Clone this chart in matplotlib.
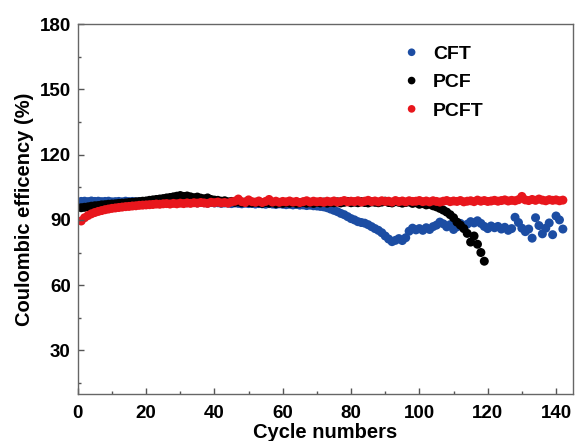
import numpy as np
import matplotlib
matplotlib.use('Agg')
import matplotlib.pyplot as plt

plt.rcParams['font.family'] = ['Liberation Sans', 'DejaVu Sans']
plt.rcParams['font.weight'] = 'bold'

# coulombic efficiency (%) per cycle
cft = [98.5, 98.6, 98.4, 98.7, 98.5, 98.6, 98.4, 98.5, 98.6, 98.3,
       98.4, 98.5, 98.3, 98.6, 98.4, 98.5, 98.3, 98.4, 98.2, 98.5,
       98.3, 98.1, 98.4, 98.2, 98.3, 98.0, 98.2, 98.1, 98.3, 98.0,
       98.1, 97.9, 98.2, 98.0, 97.8, 98.1, 97.9, 97.7, 98.0, 97.8,
       97.9, 97.6, 97.8, 97.7, 97.5, 97.8, 97.6, 97.4, 97.7, 97.5,
       97.6, 97.3, 97.5, 97.4, 97.2, 97.5, 97.3, 97.1, 97.4, 97.2,
       97.0, 97.2, 96.9, 97.1, 96.8, 96.9, 96.6, 96.8, 96.5, 96.4,
       96.2, 96.0, 95.6, 95.0, 94.4, 93.8, 93.0, 92.4, 91.5, 90.6,
       90.0, 89.2, 88.8, 88.5, 87.8, 86.9, 86.0, 85.2, 84.1, 82.6,
       81.2, 80.0, 80.6, 81.4, 80.5, 81.8, 84.8, 86.2, 85.4, 86.0,
       85.2, 86.4, 85.6, 86.9, 87.6, 89.0, 88.2, 86.8, 87.8, 85.6,
       86.8, 88.4, 87.2, 88.0, 89.2, 88.6, 89.6, 88.4, 87.0, 86.0,
       87.2, 86.4, 87.0, 85.8, 86.6, 85.2, 86.0, 91.2, 88.8, 86.2,
       84.6, 85.8, 81.6, 91.0, 87.4, 83.6, 86.2, 88.6, 83.2, 91.8,
       90.0, 85.8]

pcf = [95.6, 95.8, 96.0, 96.3, 96.5, 96.6, 96.9, 97.0, 97.2, 97.3,
       97.4, 97.6, 97.7, 97.8, 98.0, 98.1, 98.3, 98.4, 98.6, 98.7,
       99.0, 99.2, 99.4, 99.6, 99.8, 100.1, 100.3, 100.6, 100.9, 101.2,
       100.8, 101.0, 100.6, 100.2, 100.5, 100.0, 99.7, 100.1, 99.4, 99.1,
       99.0, 98.6, 98.8, 98.3, 98.5, 98.1, 98.3, 97.9, 98.2, 98.0,
       97.8, 98.1, 97.9, 97.6, 98.0, 97.7, 97.9, 97.5, 97.8, 97.6,
       97.9, 97.7, 98.0, 97.6, 97.8, 98.1, 97.7, 97.9, 97.6, 98.0,
       97.8, 98.2, 97.7, 98.0, 97.9, 98.3, 97.8, 98.1, 98.5, 97.9,
       98.2, 97.9, 98.4, 98.0, 97.8, 98.3, 98.1, 97.9, 98.2, 98.6,
       98.0, 97.8, 98.4, 98.1, 97.7, 98.0, 98.3, 97.6, 97.9, 97.2,
       97.5, 96.9, 97.2, 96.5, 96.0, 95.3, 94.5, 93.6, 92.4, 91.0,
       89.0, 87.6, 86.0, 83.8, 79.8, 82.6, 78.8, 75.0, 71.0]

pcft = [89.5, 91.0, 92.0, 92.8, 93.4, 93.9, 94.3, 94.7, 95.0, 95.3,
        95.5, 95.7, 95.9, 96.1, 96.2, 96.4, 96.5, 96.7, 96.8, 96.9,
        97.0, 97.1, 97.3, 97.2, 97.4, 97.5, 97.3, 97.6, 97.4, 97.7,
        97.5, 97.8, 97.6, 97.9, 97.7, 98.0, 97.8, 97.6, 98.1, 97.9,
        98.2, 97.8, 98.0, 97.7, 98.3, 98.6, 99.6, 98.4, 98.0, 99.2,
        98.4, 98.1, 98.7, 98.0, 98.5, 99.4, 98.2, 98.6, 98.1, 98.5,
        98.3, 98.7, 98.2, 98.5, 98.0, 98.4, 98.8, 98.2, 98.6, 98.3,
        98.5, 98.1, 98.6, 98.3, 98.7, 98.2, 98.5, 98.9, 98.3, 98.6,
        98.4, 98.8, 98.2, 98.6, 99.0, 98.4, 98.7, 98.3, 98.8, 98.5,
        98.6, 98.2, 98.9, 98.4, 98.7, 98.3, 98.8, 98.5, 98.6, 98.9,
        98.4, 98.7, 98.3, 98.8, 98.5, 98.2, 98.6, 98.9, 98.4, 98.7,
        98.5, 98.9, 98.3, 98.6, 98.8, 98.4, 99.1, 98.6, 98.9, 98.5,
        98.7, 99.0, 98.6, 98.9, 99.2, 98.7, 99.0, 98.8, 99.3, 100.8,
        99.2, 98.9, 99.4, 99.0, 99.6, 99.1, 98.8, 99.3, 99.0, 99.2,
        98.8, 99.1]

cyc_cft = np.arange(1, len(cft) + 1)
cyc_pcf = np.arange(1, len(pcf) + 1)
cyc_pcft = np.arange(1, len(pcft) + 1)

fig = plt.figure(figsize=(5.76, 4.41), dpi=100)
ax = fig.add_axes([0.135, 0.107, 0.86, 0.838])

ax.scatter(cyc_cft, cft, s=42, color='#1c4da3', edgecolors='none', label='CFT')
ax.scatter(cyc_pcf, pcf, s=42, color='black', edgecolors='none', label='PCF')
ax.scatter(cyc_pcft, pcft, s=42, color='#e8161c', edgecolors='none', label='PCFT')

ax.set_xlim(0, 145)
ax.set_ylim(10, 180)
ax.set_xticks(np.arange(0, 141, 20))
ax.set_xticks(np.arange(10, 145, 20), minor=True)
ax.set_yticks(np.arange(30, 181, 30))
ax.set_yticks(np.arange(15, 180, 30), minor=True)
ax.tick_params(which='both', direction='in', labelsize=13.5, color='#555555')
ax.tick_params(which='major', length=4, width=1)
ax.tick_params(which='minor', length=2.5, width=1)
ax.tick_params(axis='x', which='major', pad=8)
ax.tick_params(axis='y', which='major', pad=5)
for lab in ax.get_xticklabels() + ax.get_yticklabels():
    lab.set_fontweight('bold')
for sp in ax.spines.values():
    sp.set_color('#666666')
    sp.set_linewidth(1.0)

ax.set_xlabel('Cycle numbers', fontsize=14.5, fontweight='bold', labelpad=1)
ax.set_ylabel('Coulombic efficency (%)', fontsize=14.5, fontweight='bold', labelpad=4)

leg = ax.legend(loc='upper left', bbox_to_anchor=(0.619, 0.99), frameon=False,
                fontsize=14, markerscale=0.85, handlelength=1.0, handletextpad=0.6,
                labelspacing=0.55, scatteryoffsets=[0.5])
for t in leg.get_texts():
    t.set_fontweight('bold')

fig.savefig('out.png', dpi=100)
